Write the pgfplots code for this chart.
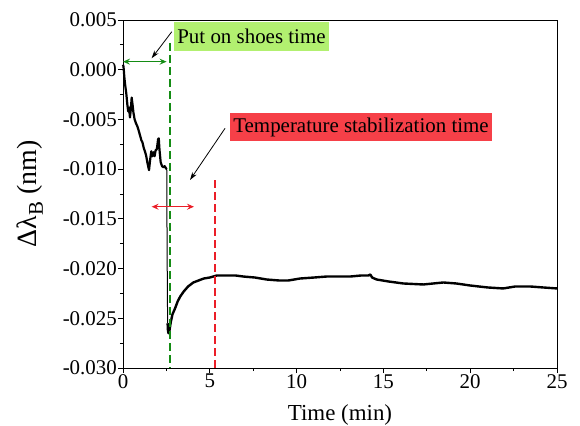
\documentclass[border=0pt]{standalone}
\usepackage{fontspec}
\setmainfont{Liberation Serif}
\usepackage{pgfplots}
\pgfplotsset{compat=1.18}
\usetikzlibrary{arrows.meta}
\definecolor{boxgreen}{RGB}{178,240,112}
\definecolor{boxred}{RGB}{246,64,72}
\definecolor{dgreen}{RGB}{20,140,20}
\definecolor{lred}{RGB}{235,30,40}
\newcommand{\tl}[1]{\textrm{\fontsize{21}{24}\selectfont #1}}
\begin{document}
\begin{tikzpicture}[x=1bp,y=1bp]
\begin{axis}[
  at={(0,0)}, anchor=south west,
  scale only axis, width=434bp, height=348bp,
  xmin=0, xmax=25, ymin=-0.030, ymax=0.005,
  xtick={0,5,10,15,20,25}, minor x tick num=1,
  xticklabels={\tl{0},\tl{5},\tl{10},\tl{15},\tl{20},\tl{25}},
  ytick={-0.030,-0.025,-0.020,-0.015,-0.010,-0.005,0.000,0.005}, minor y tick num=1,
  yticklabels={\tl{-0.030},\tl{-0.025},\tl{-0.020},\tl{-0.015},\tl{-0.010},\tl{-0.005},\tl{0.000},\tl{0.005}},
  xtick pos=bottom, ytick pos=left,
  tick align=outside,
  major tick length=5bp, minor tick length=3bp,
  every tick/.style={black, line width=0.8bp},
  axis line style={line width=0.9bp},
  xticklabel style={inner sep=1bp},
  yticklabel style={inner sep=1bp},
  scaled y ticks=false,
  xlabel={Time (min)},
  ylabel={Δλ\raisebox{-0.22em}{\fontsize{21}{21}\selectfont B} (nm)},
  xlabel style={font=\fontsize{23}{26}\selectfont, at={(axis description cs:0.5,-0.135)}, anchor=center},
  ylabel style={font=\fontsize{28}{32}\selectfont, at={(axis description cs:-0.214,0.5)}, anchor=center},
  clip=false,
]
\addplot[black, line width=2.2bp, line join=round] coordinates {
(0.00,0.0005) (0.03,0.0003) (0.08,-0.0008) (0.13,-0.0016) (0.19,-0.0024)
(0.25,-0.0035) (0.30,-0.0042) (0.35,-0.0038) (0.40,-0.0048) (0.45,-0.0040)
(0.50,-0.0028) (0.55,-0.0035) (0.60,-0.0043) (0.67,-0.0050) (0.75,-0.0054)
(0.83,-0.0057) (0.90,-0.0061) (0.98,-0.0066) (1.06,-0.0071) (1.12,-0.0073)
(1.20,-0.0079) (1.28,-0.0083) (1.34,-0.0087) (1.40,-0.0093) (1.46,-0.0098)
(1.50,-0.0101) (1.56,-0.0091) (1.63,-0.0082) (1.70,-0.0087) (1.76,-0.0083)
(1.82,-0.0087) (1.88,-0.0081) (1.95,-0.0080) (2.02,-0.0070) (2.06,-0.0069)
(2.10,-0.0080) (2.17,-0.0093) (2.25,-0.0097) (2.32,-0.0098) (2.40,-0.0097)
(2.47,-0.0099) (2.52,-0.0100)
};
\addplot[black, line width=1bp] coordinates {(2.52,-0.0100) (2.54,-0.0180) (2.57,-0.0255)};
\addplot[black, line width=2.4bp, line join=round] coordinates {
(2.57,-0.0255) (2.59,-0.0262) (2.62,-0.0265) (2.67,-0.0263) (2.75,-0.0254)
(2.85,-0.0246) (3.00,-0.0240) (3.15,-0.0233) (3.30,-0.0228) (3.50,-0.0223)
(3.75,-0.0218) (4.05,-0.0214) (4.35,-0.0212) (4.65,-0.0210) (5.00,-0.0209)
(5.40,-0.0207) (5.97,-0.0207) (6.50,-0.0207) (6.93,-0.0208) (7.60,-0.0209)
(8.28,-0.0211) (9.00,-0.0212) (9.52,-0.0212) (10.2,-0.0210) (11.0,-0.0209)
(11.73,-0.0208) (12.5,-0.0208) (13.08,-0.0208) (13.7,-0.0207) (14.13,-0.0207)
(14.25,-0.0206) (14.35,-0.0209) (14.61,-0.0211) (15.3,-0.0213) (16.15,-0.0215)
(17.3,-0.0216) (18.45,-0.0214) (19.2,-0.0215) (19.99,-0.0217) (21.0,-0.0219)
(21.9,-0.0220) (22.6,-0.0218) (23.44,-0.0218) (24.2,-0.0219) (25.0,-0.0220)
};
% dashed vertical markers
\addplot[dgreen, line width=1.5bp, dash pattern=on 8bp off 4bp] coordinates {(2.71,0.0027) (2.71,-0.030)};
\addplot[lred, line width=1.5bp, dash pattern=on 8bp off 4bp] coordinates {(5.30,-0.0111) (5.30,-0.030)};
% double arrows
\addplot[dgreen, line width=1.2bp, {Stealth[length=7bp,width=6bp,inset=2.5bp]}-{Stealth[length=7bp,width=6bp,inset=2.5bp]}] coordinates {(0,0.00081) (2.51,0.00081)};
\addplot[lred, line width=1.2bp, {Stealth[length=7bp,width=6bp,inset=2.5bp]}-{Stealth[length=7bp,width=6bp,inset=2.5bp]}] coordinates {(1.65,-0.01378) (4.09,-0.01378)};
% pointer arrows
\draw[black, line width=0.8bp, -{Stealth[length=8bp,width=5bp]}] (axis cs:2.81,0.00382) -- (axis cs:1.65,0.00115);
\draw[black, line width=0.8bp, -{Stealth[length=8bp,width=5bp]}] (axis cs:5.88,-0.00589) -- (axis cs:3.86,-0.01109);
% label boxes
\node[fill=boxgreen, inner xsep=3bp, inner ysep=0bp, minimum height=29bp, font=\fontsize{21}{24}\selectfont] at (axis cs:7.40,0.00334) {Put on shoes time};
\node[fill=boxred, inner xsep=3bp, inner ysep=0bp, minimum height=28bp, font=\fontsize{21}{24}\selectfont] at (axis cs:13.71,-0.00576) {Temperature stabilization time};
\end{axis}
\pgfresetboundingbox
\path (-123bp,-58bp) rectangle (457bp,368bp);
\end{tikzpicture}
\end{document}
